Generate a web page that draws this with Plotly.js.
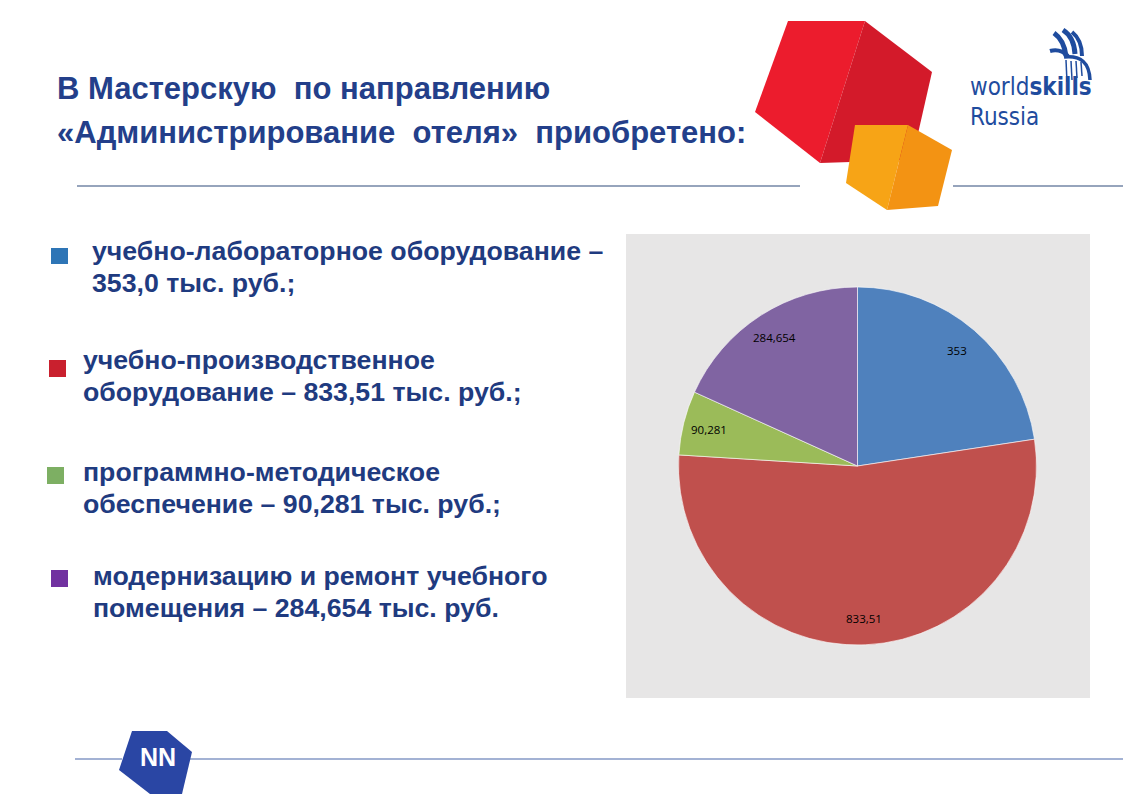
<!DOCTYPE html>
<html>
<head>
<meta charset="utf-8">
<script src="https://cdn.plot.ly/plotly-3.0.1.min.js"></script>
<style>
html,body{margin:0;padding:0;background:#fff;}
#chart{width:1123px;height:794px;}
</style>
</head>
<body>
<div id="chart"></div>
<script>
// ---- data ----
const categories = [
  "учебно-лабораторное оборудование",
  "учебно-производственное оборудование",
  "программно-методическое обеспечение",
  "модернизацию и ремонт учебного помещения"
];
const values = [353, 833.51, 90.281, 284.654];
const valueLabels = ["353", "833,51", "90,281", "284,654"];
const sliceColors = ["#4F81BD", "#C0504D", "#9BBB59", "#8064A2"];

const titleLines = [
  "В Мастерскую  по направлению",
  "«Администрирование  отеля»  приобретено:"
];
const legendLines = [
  ["учебно-лабораторное оборудование –", "353,0 тыс. руб.;"],
  ["учебно-производственное", "оборудование – 833,51 тыс. руб.;"],
  ["программно-методическое", "обеспечение – 90,281 тыс. руб.;"],
  ["модернизацию и ремонт учебного", "помещения – 284,654 тыс. руб."]
];
const bulletColors = ["#2E75B6", "#C9202E", "#7DAF63", "#7131A0"];

// ---- helpers (pixel -> paper) ----
const W = 1123, H = 794;
const px = x => x / W;
const py = y => 1 - y / H;
function poly(pts) {
  return pts.map((p, i) => (i ? "L" : "M") + px(p[0]).toFixed(5) + "," + py(p[1]).toFixed(5)).join(" ") + " Z";
}
function rect(x0, y0, x1, y1, color, layer) {
  return {type: "rect", xref: "paper", yref: "paper", x0: px(x0), x1: px(x1), y0: py(y1), y1: py(y0),
    fillcolor: color, line: {width: 0}, layer: layer || "below"};
}
function line(x0, y0, x1, y1, color, w) {
  return {type: "line", xref: "paper", yref: "paper", x0: px(x0), x1: px(x1), y0: py(y0), y1: py(y1),
    line: {color: color, width: w}, layer: "below"};
}
function pathShape(pts, color) {
  return {type: "path", xref: "paper", yref: "paper", path: poly(pts), fillcolor: color,
    line: {width: 0}, layer: "below"};
}
function stroke(d, color, w) {
  return {type: "path", xref: "paper", yref: "paper", path: d, line: {color: color, width: w}, layer: "above"};
}
function pt(x, y) { return px(x).toFixed(5) + "," + py(y).toFixed(5); }

// ---- shapes ----
const shapes = [];
shapes.push(rect(626, 234, 1090, 698, "#E7E6E6"));
shapes.push(line(77, 186, 800, 186, "#2F4A7A", 1.2));
shapes.push(line(953, 186, 1123, 186, "#2F4A7A", 1.2));
shapes.push(line(75, 759, 122, 759, "#8499C6", 1.5));
shapes.push(line(190, 759, 1123, 759, "#8499C6", 1.5));
// red cube
shapes.push(pathShape([[788,21],[865,21],[820,163],[755,112]], "#EC1C2D"));
shapes.push(pathShape([[865,21],[932,72],[912,160],[820,163]], "#D31A2A"));
// orange cube
shapes.push(pathShape([[855,125],[908,125],[887,210],[846,183]], "#F7A416"));
shapes.push(pathShape([[908,125],[952,150],[938,206],[887,210]], "#F39313"));
// NN badge
shapes.push(pathShape([[132,731],[167,731],[192,752],[182,794],[150,794],[119,770]], "#2A46A4"));
// worldskills icon (stylised)
const ic = "#1F4C9E";
shapes.push(stroke("M" + pt(1054,33) + " Q" + pt(1064,40) + " " + pt(1066,56), ic, 5));
shapes.push(stroke("M" + pt(1063,30) + " Q" + pt(1074,37) + " " + pt(1075,54), ic, 5));
shapes.push(stroke("M" + pt(1072,32) + " Q" + pt(1082,40) + " " + pt(1082,56), ic, 4));
shapes.push(stroke("M" + pt(1050,51) + " Q" + pt(1060,48) + " " + pt(1068,56), ic, 4));
shapes.push(stroke("M" + pt(1064,57) + " Q" + pt(1089,54) + " " + pt(1090,80), ic, 3.5));
shapes.push(stroke("M" + pt(1066,60) + " L" + pt(1067,82), ic, 1.5));
shapes.push(stroke("M" + pt(1071,61) + " L" + pt(1072,80), ic, 1.5));
shapes.push(stroke("M" + pt(1076,61) + " L" + pt(1077,78), ic, 1.5));
shapes.push(stroke("M" + pt(1081,62) + " L" + pt(1082,76), ic, 1.5));

// bullets
const bulletBoxes = [[51,248,68,264],[49,360,66,377],[47,467,64,484],[51,570,68,587]];
bulletBoxes.forEach((b, i) => shapes.push(rect(b[0], b[1], b[2], b[3], bulletColors[i])));

// ---- annotations ----
const textBlue = "#1F3B80";
const annotations = [];
function txt(s, x, y, size, color, bold, family, anchor) {
  annotations.push({text: bold ? "<b>" + s + "</b>" : s, xref: "paper", yref: "paper",
    x: px(x), y: py(y), xanchor: anchor || "left", yanchor: "middle", showarrow: false,
    font: {family: family || "Liberation Sans, Arial, sans-serif", size: size, color: color}});
}
txt(titleLines[0], 55, 89, 31, "#233F8A", true);
txt(titleLines[1], 55, 132, 31, "#233F8A", true);
const legendX = [90, 81, 81, 91];
const legendY = [[251, 283], [360, 392], [472, 504], [576, 608]];
legendLines.forEach((ls, i) => {
  txt(ls[0], legendX[i], legendY[i][0], 26.7, textBlue, true);
  txt(ls[1], legendX[i], legendY[i][1], 26.7, textBlue, true);
});
txt("NN", 158, 757, 25, "#FFFFFF", true, "Liberation Sans, Arial, sans-serif", "center");
const logoFont = {family: "Liberation Sans Narrow, DejaVu Sans Condensed, sans-serif", size: 24, color: "#1F4C9E"};
annotations.push({text: "world<b>skills</b>", xref: "paper", yref: "paper", x: px(969), y: py(102),
  xanchor: "left", yanchor: "bottom", showarrow: false, borderpad: 0, font: logoFont});
annotations.push({text: "Russia", xref: "paper", yref: "paper", x: px(969), y: py(102),
  xanchor: "left", yanchor: "top", showarrow: false, borderpad: 0, font: logoFont});

// ---- pie ----
const pieX = [678, 1037], pieY = [287, 645];
const cx = (pieX[0] + pieX[1]) / 2, cy = (pieY[0] + pieY[1]) / 2, R = (pieX[1] - pieX[0]) / 2;
// data labels placed at the mid-angle of each slice (clockwise from 12 o'clock)
const total = values.reduce((a, b) => a + b, 0);
let acc = 0;
values.forEach((v, i) => {
  const mid = (acc + v / 2) / total * 2 * Math.PI;
  acc += v;
  const d = 0.85 * R;
  annotations.push({text: valueLabels[i], xref: "paper", yref: "paper",
    x: px(cx + d * Math.sin(mid)), y: py(cy - d * Math.cos(mid)),
    xanchor: "center", yanchor: "middle", showarrow: false,
    font: {family: "Open Sans, sans-serif", size: 11.5, color: "#000000"}});
});

const trace = {
  type: "pie",
  labels: categories,
  values: values,
  textinfo: "none",
  sort: false,
  direction: "clockwise",
  rotation: 0,
  marker: {colors: sliceColors, line: {color: "#FFFFFF", width: 0.6}},
  domain: {x: [px(pieX[0]), px(pieX[1])], y: [py(pieY[1]), py(pieY[0])]},
  hoverinfo: "label+value",
  showlegend: false
};

const layout = {
  width: W, height: H,
  margin: {l: 0, r: 0, t: 0, b: 0},
  paper_bgcolor: "#FFFFFF",
  plot_bgcolor: "#FFFFFF",
  showlegend: false,
  shapes: shapes,
  annotations: annotations
};

Plotly.newPlot("chart", [trace], layout, {displayModeBar: false, staticPlot: true});
</script>
</body>
</html>
